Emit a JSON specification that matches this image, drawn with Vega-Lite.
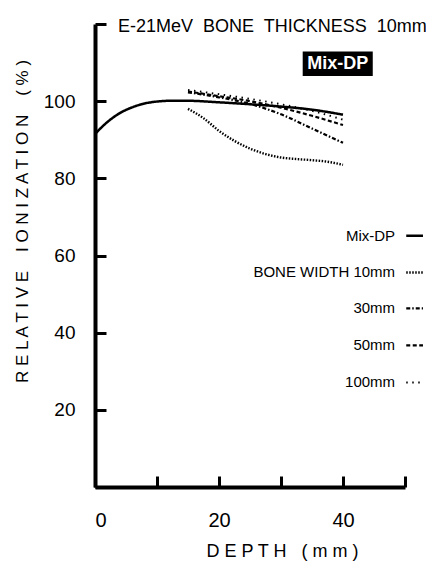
{
  "$schema": "https://vega.github.io/schema/vega-lite/v6.json",
  "width": 310,
  "height": 463,
  "autosize": "none",
  "padding": {"left": 95, "top": 24, "right": 21, "bottom": 77},
  "background": "white",
  "config": {
    "view": {"stroke": null},
    "font": "Liberation Sans"
  },
  "datasets": {
    "curves": [
      {"series": "Mix-DP", "depth": 0, "value": 91.5},
      {"series": "Mix-DP", "depth": 2, "value": 94.6},
      {"series": "Mix-DP", "depth": 4, "value": 96.9},
      {"series": "Mix-DP", "depth": 6, "value": 98.4},
      {"series": "Mix-DP", "depth": 8, "value": 99.4},
      {"series": "Mix-DP", "depth": 10, "value": 99.9},
      {"series": "Mix-DP", "depth": 12, "value": 100.1},
      {"series": "Mix-DP", "depth": 15, "value": 100.1},
      {"series": "Mix-DP", "depth": 20, "value": 99.7},
      {"series": "Mix-DP", "depth": 25, "value": 99.2},
      {"series": "Mix-DP", "depth": 30, "value": 98.6},
      {"series": "Mix-DP", "depth": 35, "value": 97.8},
      {"series": "Mix-DP", "depth": 40, "value": 96.5},
      {"series": "10mm", "depth": 15, "value": 98.0},
      {"series": "10mm", "depth": 17.5, "value": 95.6},
      {"series": "10mm", "depth": 20, "value": 92.3},
      {"series": "10mm", "depth": 22.5, "value": 89.7},
      {"series": "10mm", "depth": 25, "value": 87.7},
      {"series": "10mm", "depth": 27.5, "value": 86.3},
      {"series": "10mm", "depth": 30, "value": 85.4},
      {"series": "10mm", "depth": 32.5, "value": 85.0},
      {"series": "10mm", "depth": 35, "value": 84.7},
      {"series": "10mm", "depth": 37.5, "value": 84.3},
      {"series": "10mm", "depth": 40, "value": 83.5},
      {"series": "30mm", "depth": 15, "value": 102.3},
      {"series": "30mm", "depth": 20, "value": 101.0},
      {"series": "30mm", "depth": 25, "value": 99.3},
      {"series": "30mm", "depth": 30, "value": 96.6},
      {"series": "30mm", "depth": 35, "value": 92.9},
      {"series": "30mm", "depth": 40, "value": 89.2},
      {"series": "50mm", "depth": 15, "value": 102.5},
      {"series": "50mm", "depth": 20, "value": 101.3},
      {"series": "50mm", "depth": 25, "value": 100.0},
      {"series": "50mm", "depth": 30, "value": 98.3},
      {"series": "50mm", "depth": 35, "value": 96.2},
      {"series": "50mm", "depth": 40, "value": 93.8},
      {"series": "100mm", "depth": 15, "value": 102.9},
      {"series": "100mm", "depth": 20, "value": 101.8},
      {"series": "100mm", "depth": 25, "value": 100.6},
      {"series": "100mm", "depth": 30, "value": 99.2},
      {"series": "100mm", "depth": 35, "value": 97.5},
      {"series": "100mm", "depth": 40, "value": 95.2}
    ],
    "legend": [
      {"series": "Mix-DP", "label": "Mix-DP", "ly": 65.1, "tx": 48.4, "x1": 50.2, "x2": 52.9},
      {"series": "10mm", "label": "BONE WIDTH 10mm", "ly": 55.6, "tx": 48.4, "x1": 50.2, "x2": 52.9},
      {"series": "30mm", "label": "30mm", "ly": 46.3, "tx": 48.4, "x1": 50.2, "x2": 52.9},
      {"series": "50mm", "label": "50mm", "ly": 36.7, "tx": 48.4, "x1": 50.2, "x2": 52.9},
      {"series": "100mm", "label": "100mm", "ly": 27.1, "tx": 48.4, "x1": 50.2, "x2": 52.9}
    ],
    "notes": [
      {"text": "E-21MeV\u00a0 BONE\u00a0 THICKNESS\u00a0 10mm", "nx": 3.7, "ny": 118.0}
    ],
    "badge": [
      {"text": "Mix-DP", "bx1": 33.5, "bx2": 44.8, "by1": 106.5, "by2": 112.9, "cx": 39.15, "cy": 109.6}
    ]
  },
  "layer": [
    {
      "data": {"name": "curves"},
      "mark": {"type": "line", "interpolate": "monotone", "color": "black"},
      "encoding": {
        "x": {
          "field": "depth", "type": "quantitative",
          "scale": {"domain": [0, 50], "nice": false},
          "axis": {
            "values": [0, 5, 10, 15, 20, 25, 30, 35, 40, 45, 50],
            "labelExpr": "datum.value % 20 == 0 ? datum.label : ''",
            "grid": false, "domainColor": "black", "domainWidth": 4,
            "tickColor": "black", "tickWidth": 3, "tickSize": -11,
            "labelFontSize": 20, "labelColor": "black", "labelPadding": 34,
            "title": "D E P T H \u00a0 ( m m )", "titleFontSize": 18, "titleFontWeight": "normal",
            "titleColor": "black", "titleX": 187, "titleY": 64, "titleBaseline": "middle"
          }
        },
        "y": {
          "field": "value", "type": "quantitative",
          "scale": {"domain": [0, 120], "nice": false},
          "axis": {
            "values": [0, 10, 20, 30, 40, 50, 60, 70, 80, 90, 100, 110, 120],
            "labelExpr": "datum.value % 20 == 0 && datum.value > 0 && datum.value < 120 ? datum.label : ''",
            "grid": false, "domainColor": "black", "domainWidth": 4,
            "tickColor": "black", "tickWidth": 3, "tickSize": -11,
            "labelFontSize": 19, "labelColor": "black", "labelPadding": 31,
            "title": "R E L A T I V E \u00a0\u00a0 I O N I Z A T I O N \u00a0\u00a0 ( % )", "titleFontSize": 17, "titleFontWeight": "normal",
            "titleColor": "black", "titleX": -73, "titleY": 197, "titleBaseline": "middle", "titleAngle": -90
          }
        },
        "detail": {"field": "series"},
        "strokeDash": {
          "field": "series", "type": "nominal",
          "scale": {"domain": ["Mix-DP", "10mm", "30mm", "50mm", "100mm"],
                    "range": [[1, 0], [1.5, 1.5], [4, 2, 1.5, 2], [4, 2.5], [1.5, 4.5]]},
          "legend": null
        },
        "strokeWidth": {
          "field": "series", "type": "nominal",
          "scale": {"domain": ["Mix-DP", "10mm", "30mm", "50mm", "100mm"], "range": [2.5, 2, 2.2, 2.2, 2.2]},
          "legend": null
        }
      }
    },
    {
      "data": {"name": "legend"},
      "mark": {"type": "rule", "color": "black"},
      "encoding": {
        "x": {"field": "x1", "type": "quantitative"},
        "x2": {"field": "x2"},
        "y": {"field": "ly", "type": "quantitative"},
        "strokeDash": {"field": "series", "type": "nominal", "legend": null},
        "strokeWidth": {"field": "series", "type": "nominal", "legend": null}
      }
    },
    {
      "data": {"name": "legend"},
      "mark": {"type": "text", "align": "right", "baseline": "middle", "fontSize": 15, "color": "black"},
      "encoding": {
        "x": {"field": "tx", "type": "quantitative"},
        "y": {"field": "ly", "type": "quantitative"},
        "text": {"field": "label"}
      }
    },
    {
      "data": {"name": "notes"},
      "mark": {"type": "text", "align": "left", "baseline": "alphabetic", "fontSize": 18, "color": "black"},
      "encoding": {
        "x": {"field": "nx", "type": "quantitative"},
        "y": {"field": "ny", "type": "quantitative"},
        "text": {"field": "text"}
      }
    },
    {
      "data": {"name": "badge"},
      "mark": {"type": "rect", "color": "black"},
      "encoding": {
        "x": {"field": "bx1", "type": "quantitative"},
        "x2": {"field": "bx2"},
        "y": {"field": "by1", "type": "quantitative"},
        "y2": {"field": "by2"}
      }
    },
    {
      "data": {"name": "badge"},
      "mark": {"type": "text", "align": "center", "baseline": "middle", "fontSize": 18, "fontWeight": "bold", "color": "white"},
      "encoding": {
        "x": {"field": "cx", "type": "quantitative"},
        "y": {"field": "cy", "type": "quantitative"},
        "text": {"field": "text"}
      }
    }
  ]
}
